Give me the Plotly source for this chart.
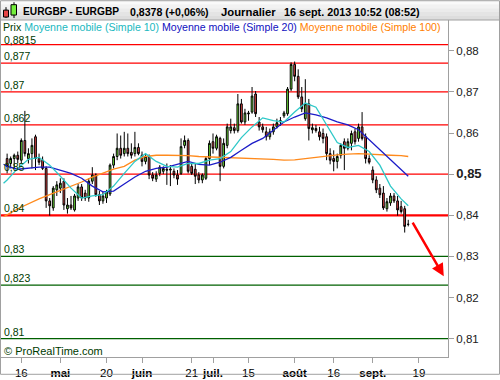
import plotly.graph_objects as go
import pandas as pd

# ---------------- data ----------------
candle_dates = [d.strftime("%Y-%m-%d") for d in pd.bdate_range("2013-04-10", "2013-09-16")]

opens = [0.8538, 0.8526, 0.8538, 0.8546, 0.8534, 0.8582, 0.8538, 0.8550, 0.8591, 0.8538,
         0.8534, 0.8514, 0.8435, 0.8418, 0.8462, 0.8466, 0.8483, 0.8416, 0.8425, 0.8413,
         0.8442, 0.8469, 0.8454, 0.8442, 0.8483, 0.8498, 0.8450, 0.8435, 0.8442, 0.8452,
         0.8522, 0.8543, 0.8563, 0.8550, 0.8563, 0.8553, 0.8550, 0.8565, 0.8546, 0.8531,
         0.8543, 0.8498, 0.8488, 0.8502, 0.8507, 0.8512, 0.8510, 0.8507, 0.8498, 0.8502,
         0.8570, 0.8582, 0.8519, 0.8512, 0.8498, 0.8486, 0.8490, 0.8538, 0.8579, 0.8563,
         0.8587, 0.8519, 0.8570, 0.8606, 0.8613, 0.8606, 0.8671, 0.8627, 0.8649, 0.8651,
         0.8695, 0.8627, 0.8615, 0.8603, 0.8591, 0.8603, 0.8615, 0.8627, 0.8642, 0.8647,
         0.8707, 0.8767, 0.8738, 0.8688, 0.8635, 0.8671, 0.8608, 0.8611, 0.8603, 0.8599,
         0.8591, 0.8550, 0.8538, 0.8531, 0.8546, 0.8579, 0.8563, 0.8575, 0.8603, 0.8587,
         0.8615, 0.8591, 0.8538, 0.8510, 0.8486, 0.8466, 0.8454, 0.8416, 0.8430, 0.8447,
         0.8435, 0.8421, 0.8416, 0.8378]
highs = [0.8550, 0.8543, 0.8550, 0.8555, 0.8587, 0.8654, 0.8563, 0.8587, 0.8596, 0.8550,
         0.8543, 0.8519, 0.8442, 0.8471, 0.8483, 0.8490, 0.8490, 0.8442, 0.8447, 0.8452,
         0.8476, 0.8476, 0.8462, 0.8490, 0.8517, 0.8502, 0.8459, 0.8457, 0.8462, 0.8526,
         0.8550, 0.8599, 0.8594, 0.8603, 0.8599, 0.8575, 0.8603, 0.8575, 0.8555, 0.8550,
         0.8548, 0.8505, 0.8507, 0.8522, 0.8519, 0.8526, 0.8522, 0.8514, 0.8510, 0.8587,
         0.8594, 0.8587, 0.8526, 0.8526, 0.8505, 0.8502, 0.8543, 0.8582, 0.8599, 0.8596,
         0.8591, 0.8587, 0.8623, 0.8635, 0.8623, 0.8695, 0.8683, 0.8659, 0.8654, 0.8712,
         0.8702, 0.8639, 0.8623, 0.8615, 0.8611, 0.8623, 0.8635, 0.8639, 0.8654, 0.8712,
         0.8772, 0.8774, 0.8755, 0.8712, 0.8731, 0.8683, 0.8623, 0.8620, 0.8615, 0.8611,
         0.8599, 0.8563, 0.8558, 0.8550, 0.8575, 0.8587, 0.8587, 0.8606, 0.8611, 0.8623,
         0.8651, 0.8599, 0.8546, 0.8519, 0.8495, 0.8476, 0.8471, 0.8442, 0.8454, 0.8454,
         0.8447, 0.8435, 0.8423, 0.8389]
lows = [0.8502, 0.8514, 0.8514, 0.8526, 0.8526, 0.8543, 0.8526, 0.8514, 0.8510, 0.8522,
        0.8510, 0.8418, 0.8399, 0.8411, 0.8447, 0.8454, 0.8413, 0.8404, 0.8413, 0.8409,
        0.8435, 0.8435, 0.8435, 0.8433, 0.8476, 0.8445, 0.8425, 0.8428, 0.8430, 0.8447,
        0.8514, 0.8534, 0.8538, 0.8543, 0.8543, 0.8538, 0.8543, 0.8546, 0.8519, 0.8524,
        0.8488, 0.8483, 0.8481, 0.8495, 0.8500, 0.8474, 0.8471, 0.8490, 0.8474, 0.8498,
        0.8563, 0.8502, 0.8498, 0.8476, 0.8478, 0.8478, 0.8486, 0.8522, 0.8550, 0.8558,
        0.8483, 0.8514, 0.8563, 0.8599, 0.8599, 0.8601, 0.8623, 0.8620, 0.8630, 0.8647,
        0.8639, 0.8606, 0.8601, 0.8582, 0.8584, 0.8596, 0.8611, 0.8618, 0.8637, 0.8642,
        0.8702, 0.8726, 0.8683, 0.8651, 0.8630, 0.8582, 0.8599, 0.8601, 0.8582, 0.8575,
        0.8534, 0.8524, 0.8507, 0.8514, 0.8538, 0.8510, 0.8558, 0.8558, 0.8572, 0.8579,
        0.8582, 0.8526, 0.8524, 0.8478, 0.8454, 0.8442, 0.8413, 0.8409, 0.8423, 0.8430,
        0.8399, 0.8404, 0.8358, 0.8373]
closes = [0.8519, 0.8538, 0.8546, 0.8536, 0.8582, 0.8550, 0.8550, 0.8570, 0.8538, 0.8529,
          0.8514, 0.8435, 0.8423, 0.8466, 0.8474, 0.8478, 0.8425, 0.8425, 0.8418, 0.8447,
          0.8469, 0.8442, 0.8442, 0.8483, 0.8498, 0.8450, 0.8435, 0.8447, 0.8457, 0.8522,
          0.8543, 0.8563, 0.8546, 0.8563, 0.8550, 0.8546, 0.8565, 0.8550, 0.8531, 0.8543,
          0.8498, 0.8490, 0.8498, 0.8517, 0.8514, 0.8510, 0.8512, 0.8498, 0.8488, 0.8567,
          0.8582, 0.8507, 0.8502, 0.8495, 0.8486, 0.8498, 0.8538, 0.8575, 0.8563, 0.8591,
          0.8519, 0.8575, 0.8615, 0.8615, 0.8606, 0.8671, 0.8627, 0.8649, 0.8647, 0.8690,
          0.8647, 0.8615, 0.8608, 0.8591, 0.8603, 0.8615, 0.8625, 0.8630, 0.8649, 0.8707,
          0.8767, 0.8738, 0.8688, 0.8659, 0.8671, 0.8611, 0.8613, 0.8606, 0.8591, 0.8587,
          0.8550, 0.8534, 0.8531, 0.8543, 0.8570, 0.8563, 0.8579, 0.8599, 0.8579, 0.8615,
          0.8587, 0.8538, 0.8529, 0.8486, 0.8462, 0.8450, 0.8418, 0.8433, 0.8447, 0.8435,
          0.8413, 0.8409, 0.8373, 0.8378]

ma_dates = ["2013-04-09"] + candle_dates[::3] + [candle_dates[-1]]
ma10 = [0.8478, 0.8486, 0.8514, 0.8536, 0.8541, 0.8522, 0.8495, 0.8466, 0.8442, 0.8447,
        0.8450, 0.8471, 0.8502, 0.8531, 0.8550, 0.8531, 0.8519, 0.8517, 0.8526, 0.8526,
        0.8534, 0.8538, 0.8555, 0.8589, 0.8615, 0.8637, 0.8630, 0.8627, 0.8651, 0.8673,
        0.8663, 0.8620, 0.8577, 0.8565, 0.8570, 0.8555, 0.8522, 0.8471, 0.8440, 0.8423]
ma20 = [0.8524, 0.8519, 0.8512, 0.8514, 0.8517, 0.8517, 0.8510, 0.8502, 0.8490, 0.8471,
        0.8457, 0.8459, 0.8476, 0.8493, 0.8507, 0.8514, 0.8517, 0.8524, 0.8531, 0.8524,
        0.8522, 0.8529, 0.8541, 0.8558, 0.8575, 0.8587, 0.8606, 0.8627, 0.8639, 0.8649,
        0.8644, 0.8637, 0.8627, 0.8620, 0.8608, 0.8584, 0.8558, 0.8534, 0.8512, 0.8495]
ma100 = [0.8397, 0.8401, 0.8416, 0.8428, 0.8440, 0.8450, 0.8460, 0.8471, 0.8481, 0.8493,
         0.8502, 0.8512, 0.8519, 0.8534, 0.8543, 0.8546, 0.8546, 0.8546, 0.8545, 0.8543,
         0.8542, 0.8542, 0.8541, 0.8540, 0.8538, 0.8537, 0.8536, 0.8534, 0.8535, 0.8538,
         0.8541, 0.8545, 0.8547, 0.8549, 0.8550, 0.8549, 0.8547, 0.8546, 0.8545, 0.8543]

levels_red = [0.8815, 0.877, 0.87, 0.862, 0.85, 0.84]
levels_green = [0.83, 0.823, 0.81]

y_ticks = [0.81, 0.82, 0.83, 0.84, 0.85, 0.86, 0.87, 0.88]
x_tick_dates = ["2013-04-16", "2013-05-01", "2013-05-20", "2013-06-03", "2013-06-21", "2013-07-01",
                "2013-07-15", "2013-08-01", "2013-08-16", "2013-09-02", "2013-09-19"]
x_tick_labels = ["16", "mai", "20", "juin", "21", "juil.", "15", "août", "16", "sept.", "19"]
x_tick_bold = [False, True, False, True, False, True, False, True, False, True, False]

header_parts = ["EURGBP - EURGBP", "0,8378 (+0,06%)", "Journalier", "16 sept. 2013 10:52 (08:52)"]
legend_parts = ["Prix", "Moyenne mobile (Simple 10)", "Moyenne mobile (Simple 20)",
                "Moyenne mobile (Simple 100)"]

arrow_start = ("2013-09-17", 0.8386)
arrow_end = ("2013-09-30", 0.8252)

# ---------------- helpers ----------------
axis_dates = [d.strftime("%Y-%m-%d") for d in pd.bdate_range("2013-04-08", "2013-10-11")]
idx = {d: i for i, d in enumerate(axis_dates)}

W, H = 500, 380
PL, PR, PT, PB = 1, 448, 20, 361  # plot area in pixels


def px(xp):
    return (xp - PL) / (PR - PL)


def py(yp):
    return (PB - yp) / (PB - PT)


FONT = "Liberation Sans, Arial, sans-serif"
DKGREEN = "#003a00"

fig = go.Figure()

fig.add_trace(go.Candlestick(
    x=[idx[d] for d in candle_dates], open=opens, high=highs, low=lows, close=closes,
    increasing=dict(fillcolor="#74ee3c", line=dict(color="#000000", width=1)),
    decreasing=dict(fillcolor="#e64646", line=dict(color="#000000", width=1)),
    whiskerwidth=0, showlegend=False, hoverinfo="skip"))

ma_x = [idx[d] for d in ma_dates]
for vals, col in [(ma100, "#ff8a1c"), (ma20, "#1c1cc8"), (ma10, "#2ec8c8")]:
    fig.add_trace(go.Scatter(x=ma_x, y=vals, mode="lines", line=dict(color=col, width=1.3),
                             showlegend=False, hoverinfo="skip"))

# horizontal levels
for lv in levels_red:
    fig.add_shape(type="line", xref="paper", x0=0, x1=1, yref="y", y0=lv, y1=lv,
                  line=dict(color="#ff0000", width=2.2 if lv == 0.84 else 1.2), layer="below")
for lv in levels_green:
    fig.add_shape(type="line", xref="paper", x0=0, x1=1, yref="y", y0=lv, y1=lv,
                  line=dict(color="#006000", width=1.2), layer="below")
for lv in levels_red + levels_green:
    fig.add_annotation(xref="paper", x=px(2.5), yref="y", y=lv, yanchor="bottom", xanchor="left",
                       text=str(lv).replace(".", ","), showarrow=False,
                       yshift=-2 if lv == 0.8815 else 0,
                       font=dict(family=FONT, size=10.5, color=DKGREEN), borderpad=0)

# header bar (gradient imitation)
bands = ["#fafafa", "#f2f2f2", "#ebebeb", "#e4e4e4", "#dddddd"]
for i, c in enumerate(bands):
    fig.add_shape(type="rect", xref="paper", yref="paper", x0=px(0), x1=px(500),
                  y0=py(4 * (i + 1)), y1=py(4 * i), fillcolor=c, line=dict(width=0), layer="above")
fig.add_shape(type="line", xref="paper", yref="paper", x0=px(0), x1=px(500), y0=py(20), y1=py(20),
              line=dict(color="#a0a0a0", width=1), layer="above")
# icon
fig.add_shape(type="line", xref="paper", yref="paper", x0=px(6), x1=px(6), y0=py(18), y1=py(7),
              line=dict(color="#000", width=1), layer="above")
fig.add_shape(type="rect", xref="paper", yref="paper", x0=px(3.5), x1=px(8.5), y0=py(17), y1=py(10),
              fillcolor="#e64646", line=dict(color="#000", width=1), layer="above")
fig.add_shape(type="line", xref="paper", yref="paper", x0=px(14), x1=px(14), y0=py(18), y1=py(2),
              line=dict(color="#000", width=1), layer="above")
fig.add_shape(type="rect", xref="paper", yref="paper", x0=px(11), x1=px(16.5), y0=py(15), y1=py(4.5),
              fillcolor="#74ee3c", line=dict(color="#000", width=1), layer="above")

for xpx, size, txt in zip([22, 129, 220, 283], [10.2, 10.6, 11.3, 10.8], header_parts):
    fig.add_annotation(xref="paper", yref="paper", x=px(xpx), y=py(11.5), xanchor="left",
                       yanchor="middle", text="<b>%s</b>" % txt, showarrow=False, borderpad=0,
                       font=dict(family=FONT, size=size, color="#000"))

# legend row
legend_cols = [DKGREEN, "#20b8c0", "#1010c0", "#ff8000"]
legend_txt = " ".join("<span style='color:%s'>%s</span>" % (c, t) for c, t in zip(legend_cols, legend_parts))
fig.add_annotation(xref="paper", yref="paper", x=px(2), y=py(27), xanchor="left", yanchor="middle",
                   text=legend_txt, showarrow=False, borderpad=0, font=dict(family=FONT, size=10.6))

fig.add_annotation(xref="paper", yref="paper", x=px(2), y=py(355), xanchor="left", yanchor="middle",
                   text="© ProRealTime.com", showarrow=False,
                   font=dict(family=FONT, size=11, color=DKGREEN))

# arrow
fig.add_annotation(x=idx[arrow_end[0]], y=arrow_end[1], ax=idx[arrow_start[0]], ay=arrow_start[1],
                   xref="x", yref="y", axref="x", ayref="y", text="", showarrow=True,
                   arrowhead=2, arrowsize=1, arrowwidth=2.5, arrowcolor="#ff0000")

# outer border
fig.add_shape(type="rect", xref="paper", yref="paper", x0=px(0.5), x1=px(499.5), y0=py(378.5), y1=py(0.5),
              line=dict(color="#a0a0a0", width=1), layer="above")

x0_idx = idx[candle_dates[0]]
fig.update_layout(
    width=W, height=H, margin=dict(l=PL, r=W - PR, t=PT, b=H - PB, pad=0),
    paper_bgcolor="white", plot_bgcolor="white", showlegend=False,
    font=dict(family=FONT, size=11, color="#000"),
    xaxis=dict(range=[x0_idx - 1.72, x0_idx + 124.2], rangeslider=dict(visible=False),
               tickvals=[idx[d] for d in x_tick_dates],
               ticktext=["<b>%s</b>" % t if b else t for t, b in zip(x_tick_labels, x_tick_bold)],
               ticks="outside", ticklen=5, tickcolor="#a0a0a0", showline=True, linecolor="#a0a0a0",
               showgrid=False, zeroline=False, tickfont=dict(size=11.5)),
    yaxis=dict(side="right", range=[0.80553, 0.8875], tickvals=y_ticks,
               ticktext=["<b><span style='font-size:13px'>%s</span></b>" % ("%.2f" % v).replace(".", ",")
                         if v == 0.85 else ("%.2f" % v).replace(".", ",") for v in y_ticks],
               ticks="outside", ticklen=5, tickcolor="#a0a0a0", showline=True, linecolor="#a0a0a0",
               showgrid=False, zeroline=False, tickfont=dict(size=11.5, color="#202020")),
)

fig.write_html("out.html")
